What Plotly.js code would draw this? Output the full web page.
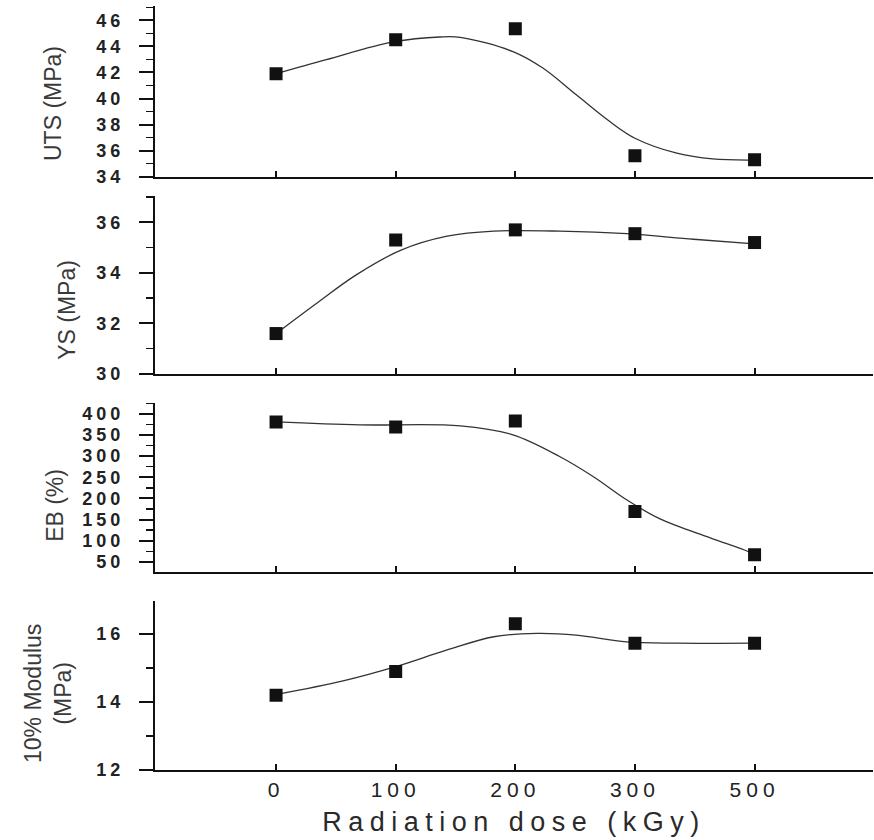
<!DOCTYPE html>
<html>
<head>
<meta charset="utf-8">
<script src="https://cdn.plot.ly/plotly-3.0.1.min.js"></script>
<style>
  html, body { margin: 0; padding: 0; background: #fff; }
  #chart { width: 874px; height: 840px; }
  .xaxislayer-above text { letter-spacing: 5px; }
  .yaxislayer-above text { letter-spacing: 4px; }
  .x4title { letter-spacing: 6.5px; }
</style>
</head>
<body>
<div id="chart"></div>
<script>
// ---- data ----
const doseLabels = ['0', '100', '200', '300', '500'];   // kGy (equally spaced categories)
const dosePos = [0, 1, 2, 3, 4];

const uts = [41.9, 44.5, 45.35, 35.6, 35.3];        // MPa
const ys = [31.6, 35.3, 35.7, 35.55, 35.2];         // MPa
const eb = [381, 369, 383, 169, 67];                // %
const modulus = [14.2, 14.9, 16.3, 15.73, 15.73];   // MPa

// fitted curves
const utsFitX = [0, 0.42, 0.98, 1.37, 1.54, 1.98, 2.23, 2.51, 2.79, 3.0, 3.35, 3.65, 4.0];
const utsFitY = [41.9, 42.98, 44.34, 44.72, 44.69, 43.6, 42.34, 40.28, 38.23, 36.95, 35.8, 35.36, 35.28];
const ysFitX = [0, 0.34, 0.67, 1.04, 1.43, 1.82, 2.37, 2.93, 3.49, 4.0];
const ysFitY = [31.6, 32.8, 33.92, 34.89, 35.45, 35.65, 35.65, 35.55, 35.33, 35.15];
const ebFitX = [0, 0.70, 1.54, 1.98, 2.37, 2.65, 2.93, 3.21, 3.63, 3.94, 4.0];
const ebFitY = [381, 374, 371.7, 350.5, 299.3, 252, 197, 151.6, 106.8, 75.3, 67];
const modFitX = [0, 0.56, 1.0, 1.43, 1.82, 2.18, 2.51, 2.93, 3.35, 4.0];
const modFitY = [14.22, 14.62, 15.04, 15.53, 15.92, 16.02, 15.97, 15.77, 15.73, 15.73];

const yTitles = ['UTS (MPa)', 'YS (MPa)', 'EB (%)', '10% Modulus<br>(MPa)'];
const xTitle = 'Radiation dose (kGy)';

// ---- traces ----
const FONT = 'Arial, "Liberation Sans", sans-serif';
const markerStyle = { symbol: 'square', size: 13, color: '#111' };
const lineStyle = { color: '#333', width: 1.3, shape: 'spline', smoothing: 1 };

const panels = [
  { fx: utsFitX, fy: utsFitY, py: uts },
  { fx: ysFitX, fy: ysFitY, py: ys },
  { fx: ebFitX, fy: ebFitY, py: eb },
  { fx: modFitX, fy: modFitY, py: modulus }
];

const traces = [];
panels.forEach((p, i) => {
  const xa = i === 0 ? 'x' : 'x' + (i + 1);
  const ya = i === 0 ? 'y' : 'y' + (i + 1);
  traces.push({ x: p.fx, y: p.fy, xaxis: xa, yaxis: ya, mode: 'lines', line: lineStyle, hoverinfo: 'skip' });
  traces.push({ x: dosePos, y: p.py, xaxis: xa, yaxis: ya, mode: 'markers', marker: markerStyle });
});

// ---- layout ----
const xRange = [-1.012, 4.99];
const domains = [[0.7766, 1.0], [0.5183, 0.7513], [0.2596, 0.48], [0, 0.2216]];
const yRanges = [[34, 47.1], [30, 37.04], [27, 425], [12, 16.98]];
const yDticks = [2, 2, 50, 2];
const yMinor = [1, 1, 25, 1];

const layout = {
  width: 874, height: 840,
  margin: { l: 155, r: 1, t: 6, b: 70 },
  paper_bgcolor: '#fff', plot_bgcolor: '#fff',
  showlegend: false,
  font: { family: FONT, color: '#222' },
  annotations: []
};

for (let i = 0; i < 4; i++) {
  const sfx = i === 0 ? '' : String(i + 1);
  const isBottom = i === 3;
  layout['xaxis' + sfx] = {
    anchor: 'y' + sfx,
    range: xRange,
    showgrid: false, zeroline: false,
    showline: true, linecolor: '#111', linewidth: 2,
    tickmode: 'array', tickvals: dosePos, ticktext: doseLabels,
    ticks: 'inside', ticklen: 6, tickwidth: 2, tickcolor: '#111',
    showticklabels: isBottom,
    tickfont: { family: FONT, size: 21, color: '#222' },
    fixedrange: true
  };
  if (isBottom) {
    layout['xaxis' + sfx].title = { text: xTitle, font: { family: FONT, size: 27, color: '#2a2a2a' }, standoff: 12 };
  }
  layout['yaxis' + sfx] = {
    anchor: 'x' + sfx,
    domain: domains[i],
    range: yRanges[i],
    showgrid: false, zeroline: false,
    showline: true, linecolor: '#111', linewidth: 2,
    tick0: 0, dtick: yDticks[i],
    ticks: 'outside', ticklen: 14, tickwidth: 2, tickcolor: '#111',
    minor: { dtick: yMinor[i], tick0: 0, ticks: 'outside', ticklen: 7, tickwidth: 1.5, tickcolor: '#111' },
    tickfont: { family: FONT, size: 18, color: '#222', weight: 'bold' },
    ticklabelstandoff: 11,
    fixedrange: true
  };
}

const titlePos = [[-0.1421, 0.873], [-0.1219, 0.603], [-0.1393, 0.347], [-0.149, 0.0995]];
yTitles.forEach((t, i) => {
  layout.annotations.push({
    text: t, xref: 'paper', yref: 'paper', x: titlePos[i][0], y: titlePos[i][1],
    xanchor: 'center', yanchor: 'middle', textangle: -90, showarrow: false,
    font: { family: FONT, size: 23, color: '#3a3a3a' }
  });
});

Plotly.newPlot('chart', traces, layout, { displayModeBar: false, staticPlot: true });
</script>
</body>
</html>
